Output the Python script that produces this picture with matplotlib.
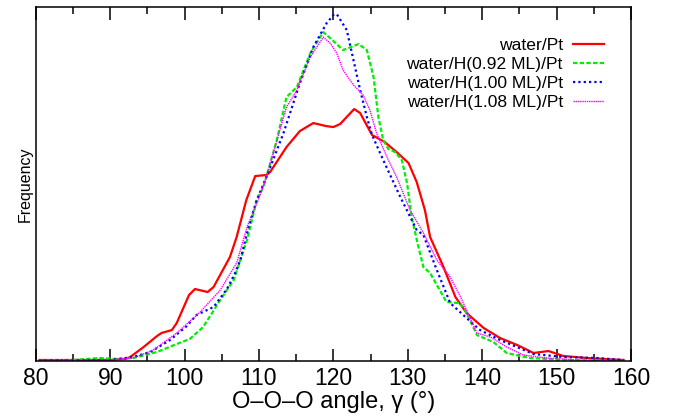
import matplotlib
matplotlib.use("Agg")
import matplotlib.pyplot as plt
from matplotlib.ticker import MultipleLocator

plt.rcParams['font.family'] = ['Liberation Sans', 'DejaVu Sans']

# ---- data (arbitrary frequency units) ----
pt_angle = [80.5, 85, 90, 92, 92.7, 94.5, 96.3, 96.9, 98.3, 98.95, 100.6, 101.4, 103.1, 103.9,
            106.1, 107.0, 108.3, 109.5, 111.0, 111.5, 113.7, 115.5, 117.3, 119.0, 120.0, 120.9,
            122.8, 123.6, 125.2, 126.9, 128.5, 130.1, 131.2, 132.3, 133.0, 134.8, 136.4, 137.9,
            140.2, 142.4, 144.7, 146.9, 148.9, 150.9, 154.1, 159]
pt_freq = [1, 1, 1, 2, 4, 14, 25, 28, 31, 38, 66, 72, 69, 74,
           104, 124, 161, 185, 186, 189, 214, 230, 238, 235, 234, 237,
           252, 248, 226, 219, 209, 198, 179, 151, 124, 94, 64, 48,
           33, 23, 16, 8, 10, 5, 3, 1]

h092_angle = [80.5, 85, 88.6, 91, 93.1, 96.3, 98.95, 100.7, 102.5, 104.8, 106.6, 108.4, 109.7,
              110.6, 112.4, 113.7, 115.1, 116.9, 118.65, 120.0, 121.3, 123.4, 124.5, 125.4,
              126.05, 126.7, 127.4, 128.3, 129.2, 129.9, 130.5, 131.4, 132.1, 133.0, 135.2,
              136.8, 137.5, 139.3, 141.5, 143.3, 146.4, 150.9, 159]
h092_freq = [0, 1, 3, 2, 3, 9, 17, 22, 34, 61, 81, 121, 161,
             174, 221, 264, 274, 308, 329, 320, 311, 317, 311, 284,
             244, 221, 212, 209, 201, 178, 145, 115, 94, 88, 59,
             58, 54, 26, 19, 8, 3, 1, 0]

h100_angle = [80.5, 85, 90, 93.1, 95.4, 98.05, 100.3, 101.6, 103.9, 105.7, 106.8, 107.5, 108.6,
              109.7, 111.0, 113.3, 115.5, 117.3, 119.1, 120.0, 120.45, 121.8, 122.7, 123.6,
              124.5, 125.2, 126.7, 129.0, 131.2, 132.1, 133.9, 135.7, 137.9, 139.7, 142.4,
              146.9, 150.9, 155.4, 159]
h100_freq = [0, 1, 1, 4, 9, 21, 35, 46, 54, 72, 88, 101, 134,
             161, 184, 228, 278, 314, 338, 346, 347, 331, 301, 271,
             244, 226, 201, 164, 131, 126, 91, 58, 43, 31, 21,
             7, 4, 3, 1]

h108_angle = [80.5, 85, 90, 93.1, 95.8, 98.95, 102.1, 104.8, 107.0, 108.4, 109.9, 111.0, 113.7,
              115.1, 116.9, 118.65, 119.55, 120.45, 121.3, 122.7, 124.0, 124.9, 125.8, 127.2,
              128.5, 130.3, 132.1, 133.9, 135.7, 137.1, 139.3, 141.1, 143.3, 145.5, 148.6,
              153, 159]
h108_freq = [0, 1, 1, 3, 11, 28, 49, 71, 98, 134, 161, 184, 254,
             271, 304, 324, 318, 308, 291, 276, 266, 251, 228, 204,
             184, 151, 128, 101, 84, 64, 28, 24, 14, 6, 3,
             1, 0]

labels = ["water/Pt", "water/H(0.92 ML)/Pt", "water/H(1.00 ML)/Pt", "water/H(1.08 ML)/Pt"]

fig = plt.figure(figsize=(6.78, 4.16), dpi=100)
ax = fig.add_axes([0.0527, 0.1322, 0.8780, 0.8508])

ax.plot(pt_angle, pt_freq, color='#ff0000', lw=1.6, ls='-', label=labels[0])
ax.plot(h092_angle, h092_freq, color='#00ee00', lw=1.6, dashes=(2.0, 1.0), label=labels[1])
ax.plot(h100_angle, h100_freq, color='#0000ff', lw=1.6, dashes=(1.0, 1.4), label=labels[2])
ax.plot(h108_angle, h108_freq, color='#ff00ff', lw=1.0, dashes=(1.0, 0.6), label=labels[3])

ax.set_xlim(80, 160)
ax.set_ylim(0, 354)
ax.xaxis.set_major_locator(MultipleLocator(10))
ax.xaxis.set_minor_locator(MultipleLocator(5))
ax.tick_params(axis='x', which='both', direction='in', top=True, bottom=True, labelsize=16.5, pad=4, width=1.1)
ax.tick_params(axis='x', which='major', length=9)
ax.tick_params(axis='x', which='minor', length=5)
ax.tick_params(axis='y', which='both', left=False, right=False, labelleft=False)
for s in ax.spines.values():
    s.set_linewidth(1.1)

ax.set_xlabel('O\u2013O\u2013O angle, \u03b3 (\u00b0)', fontsize=17, labelpad=1)
ax.set_ylabel('Frequency', fontsize=11.5, labelpad=2)

leg = ax.legend(loc='upper right', bbox_to_anchor=(0.954, 0.912), frameon=False,
                markerfirst=False, fontsize=12.6, handlelength=1.75, handletextpad=0.58,
                labelspacing=0.2, borderpad=0, borderaxespad=0)

fig.savefig('out.png', dpi=100)
